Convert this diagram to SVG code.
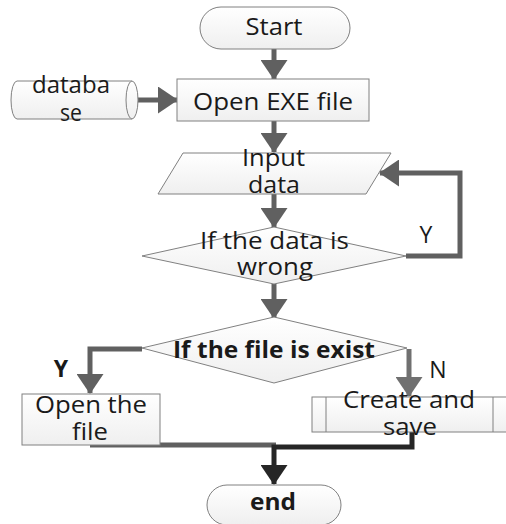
<svg xmlns="http://www.w3.org/2000/svg" width="506" height="524" viewBox="0 0 506 524">
  <defs>
    <linearGradient id="fill" x1="0" y1="0" x2="0" y2="1">
      <stop offset="0" stop-color="#ffffff"/>
      <stop offset="1" stop-color="#efefef"/>
    </linearGradient>
    <marker id="ah" viewBox="0 0 20 27" refX="19" refY="13.5" markerWidth="20" markerHeight="27" markerUnits="userSpaceOnUse" orient="auto">
      <path d="M0,0 L20,13.5 L0,27 z" fill="#606060"/>
    </marker>
    <marker id="ahk" viewBox="0 0 20 27" refX="19" refY="13.5" markerWidth="20" markerHeight="27" markerUnits="userSpaceOnUse" orient="auto">
      <path d="M0,0 L20,13.5 L0,27 z" fill="#262626"/>
    </marker>
    <marker id="ahl" viewBox="0 0 20 27" refX="19" refY="13.5" markerWidth="20" markerHeight="27" markerUnits="userSpaceOnUse" orient="auto">
      <path d="M0,0 L20,13.5 L0,27 z" fill="#707070"/>
    </marker>
  </defs>
  <style>
    .shape { fill: url(#fill); stroke: #808080; stroke-width: 1; }
    .lbl { font-family: "Open Sans", "DejaVu Sans", sans-serif; font-size: 23px; fill: #1a1a1a; text-anchor: middle; }
    .bold { font-weight: bold; }
    .conn { fill: none; stroke: #606060; stroke-width: 5; }
    .dark { stroke: #262626; }
  </style>

  <!-- connectors -->
  <g id="connectors">
    <path class="conn" d="M274,49 V79" marker-end="url(#ah)"/>
    <path class="conn" d="M131,100 H177" marker-end="url(#ah)"/>
    <path class="conn" d="M274,121 V152" marker-end="url(#ah)"/>
    <path class="conn" d="M274,194 V227" marker-end="url(#ah)"/>
    <path class="conn" d="M406,256 H460 V173 H380" marker-end="url(#ah)"/>
    <path class="conn" d="M274,284 V318" marker-end="url(#ah)"/>
    <path class="conn" d="M142,349 H90 V393" marker-end="url(#ah)"/>
    <path class="conn" d="M409,349 V396" style="stroke:#707070" marker-end="url(#ahl)"/>
    <path class="conn" d="M90,445 H276"/>
    <path class="conn dark" d="M412,432 V447 H274 V484" marker-end="url(#ahk)"/>
    <text class="lbl" x="426" y="243">Y</text>
    <text class="lbl bold" x="61" y="377">Y</text>
    <text class="lbl" x="438" y="378">N</text>
  </g>

  <g id="start">
    <rect class="shape" x="200" y="7" width="150" height="42" rx="21" ry="21"/>
    <text class="lbl" x="274" y="35" textLength="57" lengthAdjust="spacingAndGlyphs">Start</text>
  </g>

  <g id="database">
    <path class="shape" d="M17,81 H132 A6,19 0 0 1 132,119 H17 A6,19 0 0 1 17,81 Z"/>
    <path class="shape" d="M132,81 A6,19 0 0 0 132,119" fill="none"/>
    <text class="lbl" x="71" y="93" textLength="78" lengthAdjust="spacingAndGlyphs">databa</text>
    <text class="lbl" x="71" y="121" textLength="22" lengthAdjust="spacingAndGlyphs">se</text>
  </g>

  <g id="open-exe">
    <rect class="shape" x="177" y="79" width="192" height="42"/>
    <text class="lbl" x="273" y="110" textLength="160" lengthAdjust="spacingAndGlyphs">Open EXE file</text>
  </g>

  <g id="input">
    <polygon class="shape" points="183,153 391,153 366,194 158,194"/>
    <text class="lbl" x="273.5" y="166" textLength="63" lengthAdjust="spacingAndGlyphs">Input</text>
    <text class="lbl" x="274" y="193" textLength="52" lengthAdjust="spacingAndGlyphs">data</text>
  </g>

  <g id="data-wrong">
    <polygon class="shape" points="274,227 406,256 274,284 142,256"/>
    <text class="lbl" x="274.5" y="249" textLength="149" lengthAdjust="spacingAndGlyphs">If the data is</text>
    <text class="lbl" x="275" y="275" textLength="76" lengthAdjust="spacingAndGlyphs">wrong</text>
  </g>

  <g id="file-exist">
    <polygon class="shape" points="274,317 407,348 274,383 142,348"/>
    <text class="lbl bold" x="274" y="358" textLength="202" lengthAdjust="spacingAndGlyphs">If the file is exist</text>
  </g>

  <g id="open-file">
    <rect class="shape" x="22" y="394" width="138" height="51"/>
    <text class="lbl" x="91" y="413" textLength="112" lengthAdjust="spacingAndGlyphs">Open the</text>
    <text class="lbl" x="90" y="440" textLength="36" lengthAdjust="spacingAndGlyphs">file</text>
  </g>

  <g id="create-save">
    <rect class="shape" x="312" y="397" width="200" height="35"/>
    <line class="shape" x1="326" y1="397" x2="326" y2="432"/>
    <line class="shape" x1="493" y1="397" x2="493" y2="432"/>
    <text class="lbl" x="409" y="408" textLength="132" lengthAdjust="spacingAndGlyphs">Create and</text>
    <text class="lbl" x="410" y="435" textLength="54" lengthAdjust="spacingAndGlyphs">save</text>
  </g>

  <g id="end">
    <rect class="shape" x="207" y="485" width="134" height="40" rx="20" ry="20"/>
    <text class="lbl bold" x="273" y="510" textLength="46" lengthAdjust="spacingAndGlyphs">end</text>
  </g>
</svg>
